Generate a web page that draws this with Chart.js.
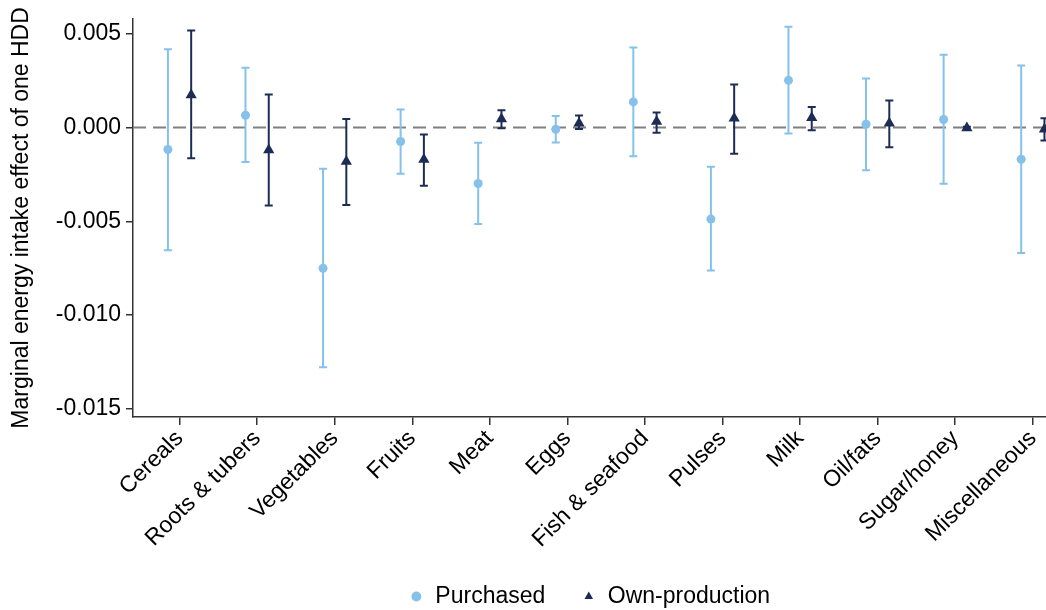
<!DOCTYPE html>
<html>
<head>
<meta charset="utf-8">
<script src="https://cdn.jsdelivr.net/npm/chart.js@4"></script>
<style>
  html, body { margin: 0; padding: 0; background: #fff; }
  #wrap { width: 1046px; height: 610px; }
</style>
</head>
<body>
<div id="wrap"><canvas id="chart"></canvas></div>
<script>
// food groups on the x axis
const categories = ['Cereals', 'Roots & tubers', 'Vegetables', 'Fruits', 'Meat', 'Eggs',
  'Fish & seafood', 'Pulses', 'Milk', 'Oil/fats', 'Sugar/honey', 'Miscellaneous'];

// point estimates and 95% CI bounds
const purchased   = [-0.00117, 0.00066, -0.0075, -0.00074, -0.00298, -0.00009, 0.00137, -0.00488, 0.00252, 0.00018, 0.00043, -0.00169];
const purchasedLo = [-0.00654, -0.00184, -0.01278, -0.00246, -0.00514, -0.0008, -0.00153, -0.00762, -0.00032, -0.00227, -0.003, -0.00669];
const purchasedHi = [0.00417, 0.00319, -0.0022, 0.00097, -0.00081, 0.00062, 0.00427, -0.00209, 0.00537, 0.00262, 0.00388, 0.00331];

const ownProd   = [0.00174, -0.00119, -0.00181, -0.0017, 0.00046, 0.00023, 0.00032, 0.0005, 0.00053, 0.00023, -0.00002, -0.00009];
const ownProdLo = [-0.00163, -0.00415, -0.00413, -0.0031, -0.00004, -0.00007, -0.00028, -0.0014, -0.00014, -0.00105, -0.0001, -0.00069];
const ownProdHi = [0.00518, 0.00177, 0.00046, -0.00037, 0.00092, 0.00064, 0.0008, 0.0023, 0.0011, 0.00145, 0.00005, 0.0005];

const yTicks = [0.005, 0, -0.005, -0.010, -0.015];

const lightBlue = '#86c1ea';
const navy = '#1d2c55';
const shift = 0.15; // horizontal dodge between the two series
const xMin = -0.6, xMax = 11.17;

function points(vals, dx) {
  return vals.map((v, i) => ({ x: i + dx, y: v }));
}

// whiskers as line segments, separated by null gaps
function whiskers(lo, hi, dx) {
  const out = [];
  lo.forEach((l, i) => {
    out.push({ x: i + dx, y: l });
    out.push({ x: i + dx, y: hi[i] });
    out.push({ x: i + dx, y: null });
  });
  return out;
}

const font = "'Liberation Sans', Arial, sans-serif";

new Chart(document.getElementById('chart'), {
  type: 'scatter',
  data: {
    datasets: [
      {
        label: 'Purchased',
        data: points(purchased, -shift),
        pointStyle: 'circle',
        pointRadius: 4.5,
        backgroundColor: lightBlue,
        borderColor: lightBlue,
        borderWidth: 0
      },
      {
        label: 'Own-production',
        data: points(ownProd, shift),
        pointStyle: 'triangle',
        pointRadius: 6.5,
        backgroundColor: navy,
        borderColor: navy,
        borderWidth: 0
      },
      {
        label: 'ci-purchased',
        data: whiskers(purchasedLo, purchasedHi, -shift),
        showLine: true,
        spanGaps: false,
        borderColor: lightBlue,
        borderWidth: 2,
        pointStyle: 'line',
        pointRadius: 4,
        pointBorderColor: lightBlue,
        pointBorderWidth: 2
      },
      {
        label: 'ci-own',
        data: whiskers(ownProdLo, ownProdHi, shift),
        showLine: true,
        spanGaps: false,
        borderColor: navy,
        borderWidth: 2,
        pointStyle: 'line',
        pointRadius: 4,
        pointBorderColor: navy,
        pointBorderWidth: 2
      },
      {
        label: 'zero',
        data: [{ x: xMin, y: 0 }, { x: xMax, y: 0 }],
        showLine: true,
        borderColor: '#808080',
        borderWidth: 2,
        borderDash: [13, 7],
        pointRadius: 0
      }
    ]
  },
  options: {
    responsive: true,
    maintainAspectRatio: false,
    animation: false,
    layout: {
      autoPadding: false,
      padding: { top: 17, right: 0, left: 0, bottom: -8 }
    },
    scales: {
      x: {
        type: 'linear',
        min: xMin,
        max: xMax,
        afterBuildTicks: scale => {
          scale.ticks = categories.map((c, i) => ({ value: i }));
        },
        afterFit: scale => {
          scale.height = 132;
          scale.paddingLeft = 0;
          scale.paddingRight = 0;
        },
        grid: { drawOnChartArea: false, drawTicks: true, tickLength: 8, color: '#333', lineWidth: 1.5 },
        border: { display: true, color: '#333', width: 1.5 },
        ticks: {
          minRotation: 45,
          maxRotation: 45,
          padding: 0,
          color: '#000',
          font: { family: font, size: 23 },
          callback: value => categories[value]
        }
      },
      y: {
        min: -0.01543,
        max: 0.0058,
        afterBuildTicks: scale => {
          scale.ticks = yTicks.map(v => ({ value: v }));
        },
        afterFit: scale => { scale.width = 133; },
        grid: { drawOnChartArea: false, drawTicks: true, tickLength: 7, color: '#333', lineWidth: 1.5 },
        border: { display: true, color: '#333', width: 1.5 },
        title: {
          display: true,
          text: 'Marginal energy intake effect of one HDD',
          color: '#000',
          font: { family: font, size: 23 },
          padding: { top: 8, bottom: 0 }
        },
        ticks: {
          color: '#000',
          padding: 5,
          font: { family: font, size: 23 },
          callback: value => value.toFixed(3)
        }
      }
    },
    plugins: {
      tooltip: { enabled: false },
      legend: {
        position: 'bottom',
        fullSize: false,
        labels: {
          filter: item => item.datasetIndex < 2,
          usePointStyle: true,
          boxWidth: 15,
          boxHeight: 7,
          padding: 36,
          color: '#000',
          font: { family: font, size: 23 }
        }
      }
    }
  }
});
</script>
</body>
</html>
